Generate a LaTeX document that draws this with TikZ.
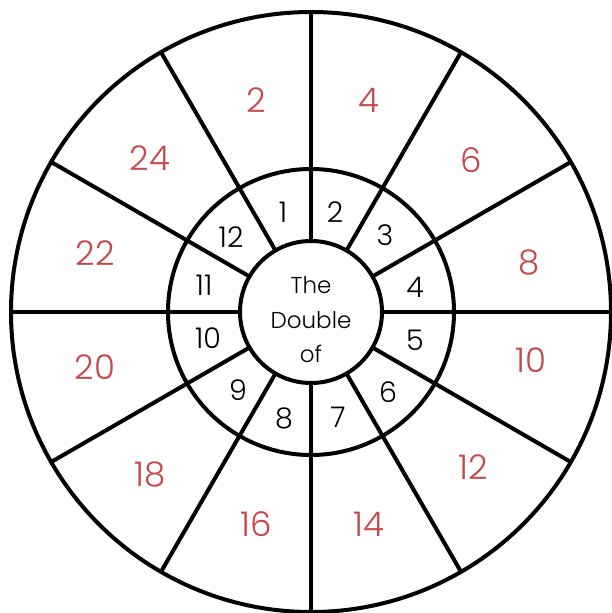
\documentclass[tikz,border=0pt]{standalone}
\usepackage{fontspec}
\setmainfont{Poppins Light}
\usetikzlibrary{calc}
\definecolor{numred}{HTML}{C8474B}
\begin{document}
\begin{tikzpicture}[x=1pt,y=-1pt,
  ring/.style={draw=black,line width=4pt,circle,minimum size=#1,inner sep=0pt},
  spoke/.style={line width=4pt,black},
  outerlbl/.style={text=numred,font=\fontsize{34}{34}\selectfont,inner sep=0pt},
  innerlbl/.style={text=black,font=\fontsize{28.5}{28.5}\selectfont,inner sep=0pt},
  centerlbl/.style={text=black,font=\fontsize{23}{23}\selectfont,inner sep=0pt,anchor=base}]
\useasboundingbox (0,0) rectangle (612,613);
\coordinate (c) at (311,312);
\node[ring=600pt] (outer) at (c) {};
\node[ring=286pt] (mid) at (c) {};
\node[ring=142pt,fill=white] (hub) at (c) {};
\foreach \a in {0,30,...,330}{
  \draw[spoke] ($(c)+(\a:71pt)$) -- ($(c)+(\a:300pt)$);
}
% mid ring labels
\foreach \n/\x/\y in {1/283/212,2/335/212,3/385/235,4/415/287,5/415/340,6/388/392,
  7/338/417,8/284/418,9/238/390,10/208/338,11/204/285,12/231/237}{
  \node[innerlbl] (in\n) at (\x,\y) {\n};
}
% outer ring labels
\foreach \n/\x/\y in {2/256/100,4/369/100,6/471/160,8/529/262,10/531/360,12/473/467,
  14/369/524,16/256/524,18/150/474,20/95/367,22/95/253,24/150/158}{
  \node[outerlbl] (out\n) at (\x,\y) {\n};
}
\node[centerlbl] (t1) at (311,293) {The};
\node[centerlbl] (t2) at (311,328) {Double};
\node[centerlbl] (t3) at (311,362) {of};
\end{tikzpicture}
\end{document}
